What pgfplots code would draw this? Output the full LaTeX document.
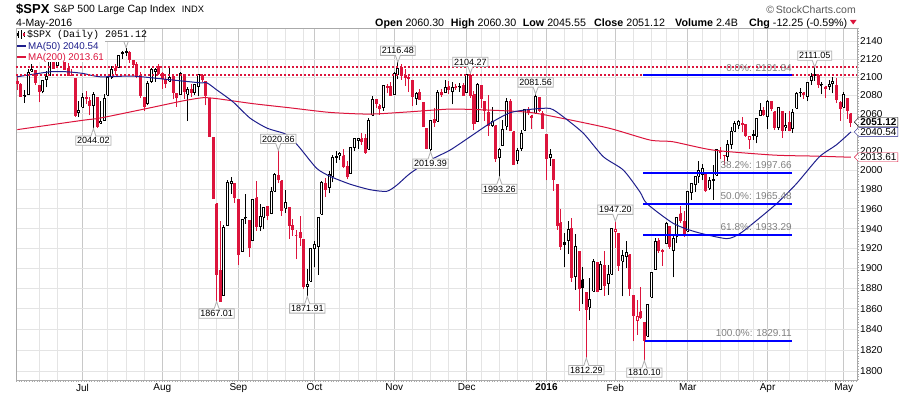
\documentclass[border=0pt]{standalone}
\usepackage{fontspec}
\setmainfont{Liberation Sans}
\newfontfamily\monofont{Liberation Mono}
\usepackage{pgfplots}
\usepackage{pgfplotstable}
\pgfplotsset{compat=1.18}
\usetikzlibrary{shapes.callouts,shapes.symbols}
\definecolor{crim}{RGB}{220,20,60}
\definecolor{navyl}{RGB}{30,30,140}
\definecolor{fibblue}{RGB}{0,0,255}
\definecolor{gridmaj}{RGB}{200,200,200}
\definecolor{gridmin}{RGB}{228,228,228}
\definecolor{framegray}{RGB}{170,170,170}
\definecolor{labgray}{RGB}{175,175,175}

\pgfplotstableread{
i o h l c k
0 2095.09 2100.99 2085.67 2092.83 0
1 2092.34 2093.01 2079.11 2079.28 0
2 2079.07 2085.62 2072.14 2080.15 1
3 2081.12 2108.50 2081.12 2105.20 1
4 2106.24 2115.02 2106.24 2108.86 1
5 2107.43 2107.43 2091.33 2094.11 0
6 2091.34 2091.34 2072.49 2084.43 0
7 2084.26 2097.40 2082.10 2096.29 1
8 2097.40 2106.79 2088.86 2100.44 1
9 2101.58 2126.65 2101.58 2121.24 1
10 2121.06 2121.64 2109.45 2109.99 0
11 2112.50 2129.87 2112.50 2122.85 1
12 2123.16 2128.03 2119.89 2124.20 1
13 2123.65 2125.10 2108.58 2108.58 0
14 2109.96 2116.04 2101.78 2102.31 0
15 2102.62 2108.92 2101.30 2101.49 0
16 2098.63 2098.63 2056.64 2057.64 0
17 2061.19 2074.28 2056.32 2063.11 1
18 2067.00 2082.78 2067.00 2077.42 1
19 2078.03 2085.06 2071.02 2076.78 0
20 2073.95 2078.61 2058.40 2068.76 0
21 2069.52 2083.74 2044.02 2081.34 1
22 2077.66 2077.66 2044.66 2046.68 0
23 2049.73 2074.28 2049.73 2051.31 1
24 2052.74 2081.31 2052.74 2076.62 1
25 2080.03 2100.67 2080.03 2099.60 1
26 2099.72 2111.98 2098.18 2108.95 1
27 2109.22 2114.14 2102.49 2107.40 0
28 2110.55 2124.42 2110.55 2124.29 1
29 2126.80 2128.91 2119.88 2126.64 1
30 2126.85 2132.82 2123.66 2128.28 1
31 2127.55 2128.49 2115.40 2119.21 0
32 2118.21 2118.51 2110.00 2114.15 0
33 2114.16 2116.87 2098.63 2102.15 0
34 2102.24 2106.01 2077.09 2079.65 0
35 2078.19 2078.19 2063.52 2067.64 0
36 2070.75 2095.60 2069.09 2093.25 1
37 2094.70 2110.60 2094.08 2108.57 1
38 2106.78 2110.48 2094.97 2108.63 1
39 2111.60 2114.24 2102.07 2103.84 0
40 2104.49 2105.70 2087.31 2098.04 0
41 2097.68 2102.51 2088.60 2093.32 0
42 2095.27 2112.66 2095.27 2099.84 1
43 2100.75 2103.32 2075.53 2083.56 0
44 2082.61 2082.61 2067.91 2077.57 0
45 2080.98 2105.35 2080.98 2104.18 1
46 2102.66 2102.66 2076.49 2084.07 0
47 2081.10 2089.06 2052.09 2086.05 1
48 2086.19 2092.93 2078.26 2083.39 0
49 2083.15 2092.45 2080.61 2091.54 1
50 2089.70 2102.87 2079.30 2102.44 1
51 2101.99 2103.47 2094.14 2096.92 0
52 2095.69 2095.69 2069.09 2079.61 0
53 2076.61 2076.61 2035.73 2035.73 0
54 2034.08 2034.08 1970.89 1970.89 0
55 1965.15 1965.15 1867.01 1893.21 0
56 1898.08 1948.04 1867.08 1867.61 0
57 1872.75 1943.09 1872.75 1940.51 1
58 1942.77 1989.60 1942.77 1987.66 1
59 1986.06 1993.48 1975.19 1988.87 1
60 1986.73 1986.73 1965.98 1972.18 0
61 1970.09 1970.09 1903.07 1913.85 0
62 1916.52 1948.91 1916.52 1948.86 1
63 1950.79 1975.01 1944.72 1951.13 1
64 1947.76 1947.76 1911.21 1921.22 0
65 1927.30 1970.42 1927.30 1969.41 1
66 1971.45 1988.63 1937.88 1942.04 0
67 1941.59 1965.29 1937.19 1952.29 1
68 1951.45 1961.05 1939.19 1961.05 1
69 1963.06 1963.06 1948.27 1953.03 0
70 1955.10 1983.19 1954.30 1978.09 1
71 1978.02 1997.26 1977.93 1995.31 1
72 1995.33 2020.86 1986.73 1990.20 0
73 1989.66 1989.66 1953.45 1958.03 0
74 1960.84 1979.64 1955.80 1966.97 1
75 1961.39 1961.39 1929.22 1942.74 0
76 1943.24 1949.52 1932.57 1938.76 0
77 1932.24 1938.88 1908.92 1932.24 0
78 1935.93 1952.89 1922.25 1931.34 0
79 1929.18 1929.18 1879.21 1881.77 0
80 1881.90 1899.48 1871.91 1884.09 1
81 1887.14 1920.53 1887.14 1920.03 1
82 1919.65 1927.21 1900.70 1923.82 1
83 1921.77 1951.36 1893.70 1951.36 1
84 1954.33 1989.17 1954.33 1987.05 1
85 1986.63 1991.62 1971.99 1979.92 0
86 1982.34 1999.31 1976.44 1995.83 1
87 1994.01 2016.50 1987.53 2013.43 1
88 2013.73 2020.13 2007.61 2014.89 1
89 2015.65 2018.66 2010.55 2017.46 1
90 2015.00 2022.34 2001.78 2003.69 0
91 2003.66 2009.56 1990.73 1994.24 0
92 1996.47 2024.15 1996.47 2023.86 1
93 2024.37 2033.54 2020.46 2033.11 1
94 2031.73 2034.45 2022.31 2033.66 1
95 2033.13 2039.12 2026.61 2030.77 0
96 2033.47 2037.97 2017.22 2018.94 0
97 2021.88 2055.20 2021.88 2052.51 1
98 2058.19 2079.74 2058.19 2075.15 1
99 2075.08 2075.14 2066.53 2071.18 0
100 2068.75 2070.37 2058.84 2065.89 0
101 2066.48 2090.35 2063.11 2090.35 1
102 2088.35 2092.52 2082.63 2089.41 0
103 2090.00 2094.32 2079.34 2079.36 0
104 2080.76 2106.20 2080.76 2104.05 1
105 2102.63 2116.48 2097.51 2109.79 1
106 2110.60 2114.59 2096.98 2102.31 0
107 2101.68 2108.78 2090.41 2099.93 0
108 2098.60 2101.91 2083.74 2099.20 0
109 2096.56 2096.56 2068.24 2078.58 0
110 2077.19 2083.67 2069.91 2081.72 1
111 2083.41 2086.94 2074.85 2075.00 0
112 2072.29 2072.29 2045.66 2045.97 0
113 2044.64 2044.64 2022.02 2023.04 0
114 2022.08 2053.22 2019.39 2053.19 1
115 2053.67 2066.69 2045.90 2050.44 0
116 2051.99 2085.31 2051.99 2083.58 1
117 2083.70 2086.74 2078.76 2081.24 0
118 2082.82 2097.06 2082.82 2089.17 1
119 2089.41 2095.61 2081.39 2086.59 0
120 2084.42 2094.12 2070.29 2089.14 1
121 2089.30 2093.00 2086.30 2088.87 0
122 2088.82 2093.29 2084.13 2090.11 1
123 2090.95 2093.81 2080.41 2080.41 0
124 2082.93 2103.37 2082.93 2102.63 1
125 2101.71 2104.27 2077.11 2079.51 0
126 2080.71 2085.00 2042.35 2049.62 0
127 2051.24 2093.84 2051.24 2091.69 1
128 2090.42 2090.42 2066.78 2077.07 0
129 2073.39 2073.85 2052.32 2063.59 0
130 2061.17 2080.33 2036.53 2047.62 0
131 2047.93 2067.65 2045.67 2052.23 1
132 2047.27 2047.27 2008.80 2012.37 0
133 2013.37 2022.92 1993.26 2021.94 1
134 2025.55 2053.87 2025.55 2043.41 1
135 2046.50 2076.72 2042.43 2073.07 1
136 2073.76 2076.37 2041.66 2041.89 0
137 2040.81 2040.81 2005.33 2005.55 0
138 2010.27 2022.90 2005.93 2021.15 1
139 2023.15 2042.74 2020.49 2038.97 1
140 2042.20 2064.73 2042.20 2064.29 1
141 2063.52 2067.36 2058.73 2060.99 0
142 2057.77 2057.77 2044.20 2056.50 0
143 2060.54 2081.56 2060.54 2078.36 1
144 2077.34 2077.34 2061.97 2063.36 0
145 2060.59 2062.54 2043.62 2043.94 0
146 2038.20 2038.20 1989.68 2012.66 0
147 2013.78 2021.94 2004.17 2016.71 1
148 2011.71 2011.71 1979.05 1990.26 0
149 1985.32 1985.32 1938.83 1943.09 0
150 1945.97 1960.40 1918.46 1922.03 0
151 1926.12 1935.65 1901.10 1923.67 1
152 1927.83 1947.38 1914.35 1938.68 1
153 1940.34 1950.33 1886.41 1890.28 0
154 1891.68 1934.47 1878.93 1921.84 1
155 1916.68 1916.68 1857.83 1880.33 0
156 1888.66 1901.44 1864.60 1881.33 1
157 1876.18 1876.18 1812.29 1859.33 0
158 1861.46 1889.85 1848.98 1868.99 1
159 1877.40 1908.85 1877.40 1906.90 1
160 1906.28 1906.28 1875.97 1877.08 0
161 1878.79 1906.73 1878.79 1903.63 1
162 1902.52 1916.99 1872.70 1882.95 0
163 1885.22 1902.96 1873.65 1893.36 1
164 1894.00 1940.24 1894.00 1940.24 1
165 1936.94 1947.20 1920.03 1939.38 0
166 1935.26 1935.26 1897.29 1903.03 0
167 1907.07 1918.01 1872.23 1912.53 1
168 1911.67 1927.35 1900.52 1915.45 1
169 1913.07 1913.07 1872.65 1880.05 0
170 1873.25 1873.25 1828.46 1853.44 0
171 1848.46 1868.25 1834.94 1852.21 0
172 1857.10 1881.60 1850.32 1851.86 0
173 1847.00 1847.00 1810.10 1829.08 0
174 1833.40 1864.78 1833.40 1864.78 1
175 1871.44 1895.77 1871.44 1895.58 1
176 1898.80 1930.68 1898.80 1926.82 1
177 1927.57 1930.00 1915.09 1917.83 0
178 1916.74 1918.78 1902.17 1917.78 0
179 1924.44 1946.70 1924.44 1945.50 1
180 1942.38 1942.38 1919.44 1921.27 0
181 1917.56 1932.08 1891.00 1929.80 1
182 1931.87 1951.83 1925.41 1951.70 1
183 1954.95 1962.96 1945.78 1948.05 0
184 1947.13 1958.27 1931.81 1932.23 0
185 1937.09 1978.35 1937.09 1978.35 1
186 1976.60 1986.51 1968.80 1986.45 1
187 1985.60 1993.69 1977.37 1993.40 1
188 1994.01 2009.13 1986.77 1999.99 1
189 1996.11 2006.12 1989.38 2001.76 1
190 1996.88 1996.88 1977.43 1979.26 0
191 1981.44 1992.69 1979.84 1989.26 1
192 1990.97 2005.08 1969.25 1989.57 1
193 1994.71 2022.37 1994.71 2022.19 1
194 2019.27 2024.57 2012.05 2019.64 0
195 2015.27 2015.94 2005.23 2015.93 0
196 2014.24 2032.02 2010.04 2027.22 1
197 2026.90 2046.24 2022.16 2040.59 1
198 2041.16 2052.36 2041.16 2049.58 1
199 2047.88 2053.13 2043.14 2051.60 1
200 2048.64 2056.60 2040.57 2049.80 0
201 2048.55 2048.55 2034.86 2036.71 0
202 2032.48 2036.04 2022.49 2035.94 0
203 2037.89 2042.67 2031.96 2037.05 1
204 2035.75 2055.91 2028.31 2055.01 1
205 2058.27 2072.21 2058.27 2063.95 1
206 2063.77 2067.92 2057.46 2059.74 0
207 2056.62 2075.07 2043.98 2072.78 1
208 2073.19 2074.02 2062.57 2066.13 0
209 2062.50 2062.50 2042.56 2045.17 0
210 2045.56 2067.33 2043.09 2066.66 1
211 2063.01 2063.01 2033.80 2041.91 0
212 2045.54 2060.63 2041.69 2047.60 1
213 2050.23 2062.93 2041.88 2041.99 0
214 2043.72 2065.05 2039.74 2061.72 1
215 2065.92 2083.18 2065.92 2082.42 1
216 2082.89 2087.84 2078.13 2082.78 1
217 2083.10 2083.22 2076.31 2080.73 0
218 2078.83 2094.66 2073.65 2094.34 1
219 2096.05 2104.05 2091.68 2100.80 1
220 2101.52 2111.05 2096.32 2102.40 1
221 2102.09 2103.78 2088.52 2091.48 0
222 2091.49 2094.32 2081.20 2091.58 1
223 2089.37 2089.37 2077.52 2087.79 0
224 2089.84 2096.87 2085.80 2091.70 1
225 2092.57 2099.89 2082.31 2095.15 1
226 2090.93 2099.30 2071.62 2075.81 0
227 2071.82 2073.85 2052.28 2065.30 0
228 2067.17 2083.42 2066.11 2081.43 1
229 2077.18 2077.18 2054.89 2063.37 0
230 2060.30 2060.30 2045.55 2051.12 0
}\data

% build the candle paths (wicks and bodies) from the table rows
\def\wickR{}\def\wickB{}\def\bRF{}\def\bBF{}\def\bRH{}\def\bBH{}
\pgfplotsforeachungrouped \r in {0,...,230}{%
  \pgfplotstablegetelem{\r}{i}\of\data\let\ci\pgfplotsretval
  \pgfplotstablegetelem{\r}{o}\of\data\let\co\pgfplotsretval
  \pgfplotstablegetelem{\r}{h}\of\data\let\ch\pgfplotsretval
  \pgfplotstablegetelem{\r}{l}\of\data\let\cl\pgfplotsretval
  \pgfplotstablegetelem{\r}{c}\of\data\let\cc\pgfplotsretval
  \pgfplotstablegetelem{\r}{k}\of\data\let\ck\pgfplotsretval
  \pgfmathsetmacro\xa{\ci-0.276}%
  \pgfmathsetmacro\xb{\ci+0.276}%
  \pgfmathtruncatemacro\hol{\cc>\co ? 1 : 0}%
  \edef\rect{(\xa,\co) (\xb,\co) (\xb,\cc) (\xa,\cc) (\xa,\co) (\ci,nan) }%
  \edef\wk{(\ci,\cl) (\ci,\ch) (\ci,nan) }%
  \ifnum\ck=1
    \xdef\wickB{\wickB\wk}%
    \ifnum\hol=1 \xdef\bBH{\bBH\rect}\else\xdef\bBF{\bBF\rect}\fi
  \else
    \xdef\wickR{\wickR\wk}%
    \ifnum\hol=1 \xdef\bRH{\bRH\rect}\else\xdef\bRF{\bRF\rect}\fi
  \fi
}

\tikzset{
  lab/.style={rectangle callout, draw=labgray, line width=0.8pt, fill=white, font={\fontsize{9}{10}\selectfont},
    inner xsep=1.4pt, inner ysep=1.4pt, callout pointer width=5pt, text height=6.5pt, text depth=0pt},
  tag/.style={signal, signal to=west, fill=white, inner xsep=1.5pt, inner ysep=1pt,
    font={\fontsize{10}{12}\selectfont}, anchor=west, text height=7pt, text depth=0pt},
  fiblab/.style={anchor=south east, inner sep=0pt, text=gray, font={\fontsize{10}{12}\selectfont}}
}

\begin{document}
\begin{tikzpicture}[x=1pt,y=1pt]
\useasboundingbox (0pt,0pt) rectangle (900pt,396pt);
\begin{axis}[
  at={(16pt,16pt)}, anchor=south west,
  scale only axis, width=841pt, height=351.5pt,
  xmin=-0.36, xmax=231.67,
  ymode=log, ymin=1792, ymax=2154.5,
  clip mode=individual,
  unbounded coords=jump,
  axis line style={draw=framegray},
  tick style={draw=none},
  major tick length=0pt, minor tick length=0pt,
  xtick={18,40,61,82,104,124,146,165,185,207,228},
  xticklabels={Jul,Aug,Sep,Oct,Nov,Dec,\textbf{2016},Feb,Mar,Apr,May},
  minor xtick={6,11,25,30,35,45,50,55,65,69,74,79,89,94,99,109,114,119,128,133,138,142,151,156,160,170,175,179,189,194,199,203,213,218,223},
  ytick={1800,1820,1840,1860,1880,1900,1920,1940,1960,1980,2000,2020,2040,2060,2080,2100,2120,2140},
  yticklabels={1800,1820,1840,1860,1880,1900,1920,1940,1960,1980,2000,2020,{},2060,2080,2100,2120,2140},
  yticklabel pos=right,
  /pgf/number format/assume math mode=true,
  xticklabel style={anchor=north, inner sep=0pt, yshift=-4pt, font={\fontsize{10}{12}\selectfont}},
  yticklabel style={anchor=west, inner sep=0pt, xshift=3pt, font={\fontsize{10}{12}\selectfont}},
  xmajorgrids, xminorgrids, ymajorgrids,
  major x grid style={draw=gridmaj, line width=0.9pt},
  minor x grid style={draw=gridmin, line width=0.9pt},
  major y grid style={draw=gridmin, line width=0.9pt},
]
% wicks
\edef\tmp{\noexpand\addplot[crim, line width=1pt, mark=none, forget plot] coordinates {\wickR};}\tmp
\edef\tmp{\noexpand\addplot[black, line width=1pt, mark=none, forget plot] coordinates {\wickB};}\tmp
% bodies: filled when close is below open, hollow when above
\edef\tmp{\noexpand\addplot[draw=crim, fill=crim, line width=1pt, mark=none, forget plot] coordinates {\bRF};}\tmp
\edef\tmp{\noexpand\addplot[draw=black, fill=black, line width=1pt, mark=none, forget plot] coordinates {\bBF};}\tmp
\edef\tmp{\noexpand\addplot[draw=crim, fill=white, line width=1pt, mark=none, forget plot] coordinates {\bRH};}\tmp
\edef\tmp{\noexpand\addplot[draw=black, fill=white, line width=1pt, mark=none, forget plot] coordinates {\bBH};}\tmp

% MA(200)
\addplot[crim, line width=1pt, smooth, tension=0.4, mark=none] coordinates {
(0,2043) (18,2053) (23,2055.5) (36,2066) (45.7,2074) (51.2,2077.5) (55,2076.5) (65,2071) (75.2,2066.5)
(86.3,2061.5) (97.3,2059.7) (108.3,2062.2) (119.4,2065.1) (130.4,2064.0) (141.5,2061.5)
(150.5,2055.0) (163.5,2044.3) (174.6,2031.8) (180.9,2030.0) (192,2021.2) (208.6,2015.9)
(219.6,2014.8) (230,2013.61)};
% MA(50)
\addplot[navyl, line width=1pt, smooth, tension=0.4, mark=none] coordinates {
(0,2100.4) (9,2105.9) (13.7,2105.9) (18.1,2104.1) (22.8,2100.4) (31.9,2101.1) (41.3,2097.5)
(50.4,2093.8) (52.3,2093.8) (55.1,2085.8) (59.5,2073.0) (64.2,2055.4) (68.9,2044.6) (73.3,2039.3)
(75.2,2035.3) (78,2023.3) (82.6,2001.9) (86.3,1993.8) (91.8,1985.5) (97.3,1979.9) (101.9,1978.2)
(104.7,1984.4) (108.3,1996.6) (113.9,2010.6) (119.4,2021.2) (124.9,2035.3) (130.4,2049.7)
(135.9,2061.1) (141.5,2064.8) (147,2065.8) (150.6,2056.8) (156.2,2039.0) (161.7,2014.1)
(167.2,2000.1) (171.8,1977.4) (173.7,1965.5) (181,1945.0) (187.4,1936.4) (195.7,1929.7)
(199.4,1934.8) (204,1948.3) (209.5,1965.5) (215,1986.2) (221.3,2014.1) (225.9,2026.5) (230,2040.54)};

% dotted resistance lines
\addplot[crim, line width=2pt, dash pattern=on 2pt off 2pt, mark=none] coordinates {(-0.36,2111.05) (231.67,2111.05)};
\addplot[crim, line width=2pt, dash pattern=on 2pt off 2pt, mark=none] coordinates {(-0.36,2101.84) (231.67,2101.84)};

% Fibonacci retracement lines
\addplot[fibblue, line width=2pt, mark=none] coordinates {(172.7,2101.84) (213.7,2101.84)};
\addplot[fibblue, line width=2pt, mark=none] coordinates {(172.7,1997.66) (213.7,1997.66)};
\addplot[fibblue, line width=2pt, mark=none] coordinates {(172.7,1965.48) (213.7,1965.48)};
\addplot[fibblue, line width=2pt, mark=none] coordinates {(172.7,1933.29) (213.7,1933.29)};
\addplot[fibblue, line width=2pt, mark=none] coordinates {(173.2,1829.11) (213.7,1829.11)};

\node[fiblab] at ([yshift=4pt]axis cs:213.7,2101.84) {0.0\%: 2101.84};
\node[fiblab] at ([yshift=4pt]axis cs:213.7,1997.66) {38.2\%: 1997.66};
\node[fiblab] at ([yshift=4pt]axis cs:213.7,1965.48) {50.0\%: 1965.48};
\node[fiblab] at ([yshift=4pt]axis cs:213.7,1933.29) {61.8\%: 1933.29};
\node[fiblab] at ([yshift=4pt]axis cs:213.7,1829.11) {100.0\%: 1829.11};

% high / low annotations (the July high label sits under the legend box)
\node[lab, callout absolute pointer={(axis cs:30,2132.82)}] at ([yshift=11.5pt]axis cs:30,2132.82) {\phantom{2132.82}};
\node[lab, callout absolute pointer={(axis cs:21,2044.02)}] at ([yshift=-12pt]axis cs:21,2044.02) {2044.02};
\node[lab, callout absolute pointer={(axis cs:55,1867.01)}] at ([yshift=-12pt]axis cs:55,1867.01) {1867.01};
\node[lab, callout absolute pointer={(axis cs:72,2020.86)}] at ([yshift=11.5pt]axis cs:72,2020.86) {2020.86};
\node[lab, callout absolute pointer={(axis cs:80,1871.91)}] at ([yshift=-12pt]axis cs:80,1871.91) {1871.91};
\node[lab, callout absolute pointer={(axis cs:105,2116.48)}] at ([yshift=11.5pt]axis cs:105,2116.48) {2116.48};
\node[lab, callout absolute pointer={(axis cs:114,2019.39)}] at ([yshift=-12pt]axis cs:114,2019.39) {2019.39};
\node[lab, callout absolute pointer={(axis cs:125,2104.27)}] at ([yshift=11.5pt]axis cs:125,2104.27) {2104.27};
\node[lab, callout absolute pointer={(axis cs:133,1993.26)}] at ([yshift=-12pt]axis cs:133,1993.26) {1993.26};
\node[lab, callout absolute pointer={(axis cs:143,2081.56)}] at ([yshift=11.5pt]axis cs:143,2081.56) {2081.56};
\node[lab, callout absolute pointer={(axis cs:157,1812.29)}] at ([yshift=-12pt]axis cs:157,1812.29) {1812.29};
\node[lab, callout absolute pointer={(axis cs:165,1947.20)}] at ([yshift=11.5pt]axis cs:165,1947.20) {1947.20};
\node[lab, callout absolute pointer={(axis cs:173,1810.10)}] at ([yshift=-12pt]axis cs:173,1810.10) {1810.10};
\node[lab, callout absolute pointer={(axis cs:220,2111.05)}] at ([yshift=11.5pt]axis cs:220,2111.05) {2111.05};

% value tags on the right axis
\node[tag, draw=crim] at ([xshift=-3pt]axis cs:231.67,2013.61) {2013.61};
\node[tag, draw=navyl] at ([xshift=-3pt]axis cs:231.67,2040.54) {2040.54};
\node[tag, draw=black, font={\bfseries\fontsize{10}{12}\selectfont}] at ([xshift=-3pt]axis cs:231.67,2051.12) {2051.12};
\end{axis}

% dotted tick rows along bottom and right axes
\draw[framegray, line width=1pt, dash pattern=on 1pt off 1.6pt] (16pt,14.8pt) -- (857pt,14.8pt);
\draw[framegray, line width=1pt, dash pattern=on 1pt off 1.6pt] (858.2pt,16pt) -- (858.2pt,367.5pt);

% legend box
\draw[labgray, line width=0.8pt, fill=white] (16pt,355pt) rectangle (144pt,367.5pt);
\fill[white] (16.5pt,334pt) rectangle (105pt,354.6pt);
\draw[black, line width=0.8pt] (18pt,358pt) -- (18pt,365pt) (21pt,357pt) -- (21pt,366pt) (24pt,359pt) -- (24pt,364pt);
\fill[black] (17pt,360pt) rectangle (19pt,363pt);
\fill[crim] (23pt,360pt) rectangle (25pt,363pt);
\node[anchor=base west, inner sep=0pt, font={\monofont\fontsize{10}{12}\selectfont}] at (27pt,358pt) {\$SPX (Daily) 2051.12};
\draw[navyl, line width=2pt] (17pt,349.5pt) -- (26pt,349.5pt);
\node[anchor=base west, inner sep=0pt, text=navyl, font={\fontsize{9.8}{11}\selectfont}] at (28pt,346pt) {MA(50) 2040.54};
\draw[crim, line width=2pt] (17pt,338.5pt) -- (26pt,338.5pt);
\node[anchor=base west, inner sep=0pt, text=crim, font={\fontsize{9.8}{11}\selectfont}] at (28pt,335pt) {MA(200) 2013.61};

% header
\node[anchor=base west, inner sep=0pt, font={\bfseries\fontsize{13}{15}\selectfont}] at (16pt,382.7pt) {\$SPX};
\node[anchor=base west, inner sep=0pt, font={\fontsize{10.5}{12}\selectfont}] at (53.3pt,383.7pt) {S\&P 500 Large Cap Index};
\node[anchor=base west, inner sep=0pt, font={\fontsize{9.3}{11}\selectfont}] at (181.7pt,383.7pt) {INDX};
\node[anchor=base west, inner sep=0pt, font={\fontsize{10.5}{12}\selectfont}] at (16pt,369.3pt) {4-May-2016};
\node[anchor=base east, inner sep=0pt, text=black!65, font={\fontsize{10.5}{12}\selectfont}] at (856pt,382.7pt) {\textcopyright\,StockCharts.com};
\begin{scope}[every node/.style={anchor=base west, inner sep=0pt, font={\fontsize{10.7}{12}\selectfont}}]
\node at (375pt,369.3pt) {\textbf{Open} 2060.30};
\node at (450.7pt,369.3pt) {\textbf{High} 2060.30};
\node at (522.7pt,369.3pt) {\textbf{Low} 2045.55};
\node at (594pt,369.3pt) {\textbf{Close} 2051.12};
\node at (675pt,369.3pt) {\textbf{Volume} 2.4B};
\node at (749pt,369.3pt) {\textbf{Chg} -12.25 (-0.59\%)};
\end{scope}
\fill[crim] (850pt,376pt) -- (856.5pt,376pt) -- (853.25pt,371.5pt) -- cycle;
\end{tikzpicture}
\end{document}
